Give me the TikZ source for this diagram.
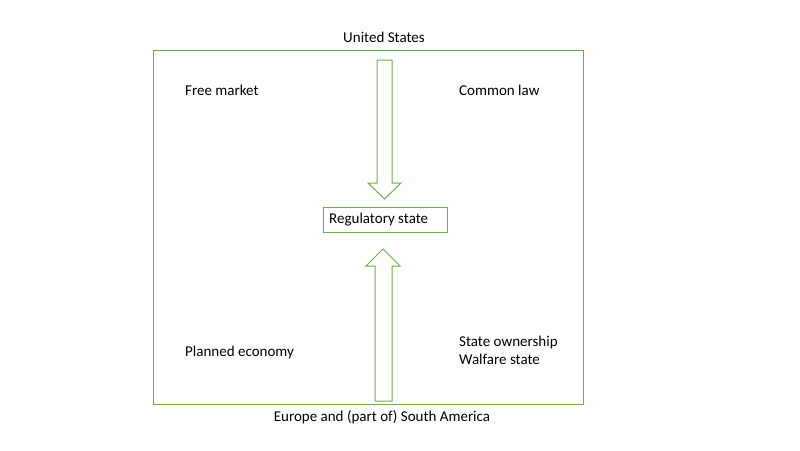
\documentclass[tikz,border=0pt]{standalone}
\usepackage{fontspec}
\setmainfont{Carlito}
\usetikzlibrary{positioning}

\begin{document}
\begin{tikzpicture}[x=1pt,y=-1pt]
\tikzset{
every node/.style={font=\fontsize{15}{18}\selectfont, inner sep=0pt},
frame/.style={draw=officegreen, line width=1pt},
block/.style={draw=officegreen, line width=1pt, fill=white}
}
\definecolor{officegreen}{RGB}{112,173,71}

	% canvas
	\useasboundingbox (0,0) rectangle (800,450);
	\draw[frame] (153,50) rectangle (583,404);

	% arrows
	\draw[block] (377,60) -- (392,60) -- (392,183) -- (401,183) -- (384.5,199) -- (368,183) -- (377,183) -- cycle;
	\draw[block] (375,401) -- (392,401) -- (392,266) -- (400,266) -- (383,249) -- (366,266) -- (375,266) -- cycle;

	\node[frame, anchor=west, minimum width=124pt, minimum height=25pt] at (323,219.5) (reg) {};
	\node[anchor=west] at (329,219.5) (regtext) {Regulatory state};

	\node at (384,37) (us) {United States};
	\node[anchor=west] at (185,90) (free) {Free market};
	\node[anchor=west] at (459,90) (common) {Common law};
	\node[anchor=west] at (185,352) (planned) {Planned economy};
	\node[anchor=west, align=left] at (459,350) (owner) {State ownership\\Walfare state};
	\node at (382,417) (eu) {Europe and (part of) South America};

\end{tikzpicture}
\end{document}
